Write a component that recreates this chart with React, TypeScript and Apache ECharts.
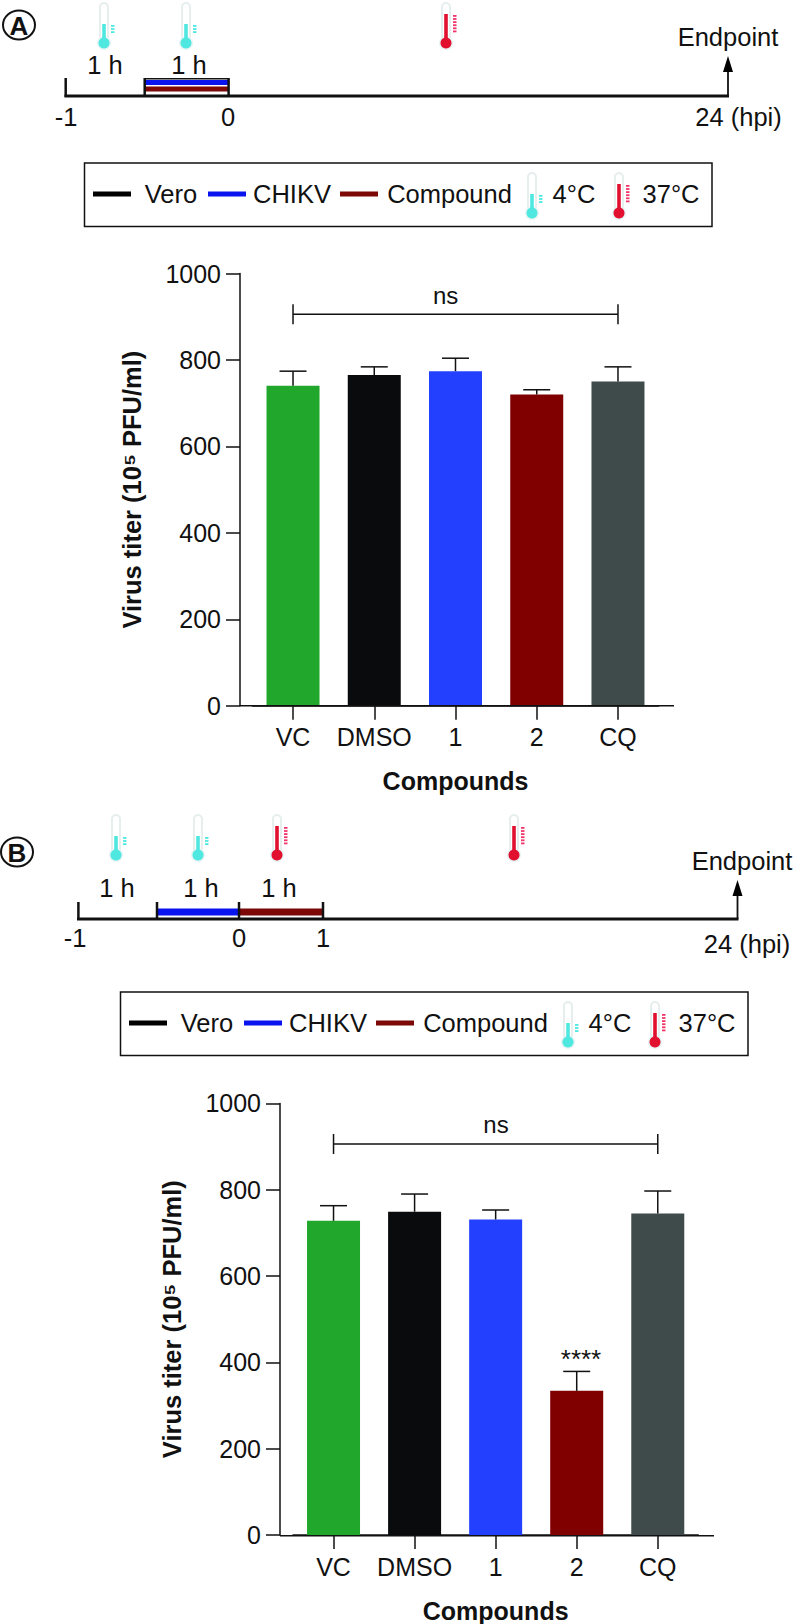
import React, { useEffect, useRef } from "react";
import * as echarts from "echarts";

const categories = ["VC", "DMSO", "1", "2", "CQ"];
const titerA = [740, 765, 774, 720, 750];
const errorTopA = [774, 784, 804, 731, 784];
const titerB = [728, 749, 731, 334, 745];
const errorTopB = [763, 790, 753, 379, 797];
const barColors = ["#21A72B", "#0A0B0C", "#2340FF", "#800000", "#3F4B4B"];
const bracketValue = 906;
const legendItems = ["Vero", "CHIKV", "Compound", "4°C", "37°C"];

const FONT = "Liberation Sans";
const INK = "#111111";
const TEAL = "#4FE8E0";
const HOT = "#E2102F";
const HOT_DASH = "#F0356A";
const LINE_BLUE = "#0A14EE";
const LINE_RED = "#7D0808";

const txt = (text: string, x: number, y: number, fontSize = 25.5, fontWeight = "normal") => ({
  type: "text", x, y, z: 10,
  style: { text, fontSize, fontWeight, fontFamily: FONT, fill: INK, align: "center", verticalAlign: "middle" },
});
const rect = (x: number, y: number, width: number, height: number, fill: string) => ({
  type: "rect", z: 5, shape: { x, y, width, height }, style: { fill },
});
const seg = (x1: number, y1: number, x2: number, y2: number, lineWidth = 2.5, stroke = INK) => ({
  type: "line", z: 6, shape: { x1, y1, x2, y2 }, style: { stroke, lineWidth },
});

function thermo(X: number, T: number, hot: boolean) {
  const color = hot ? HOT : TEAL;
  const fluidTop = hot ? T + 11 : T + 21;
  const dashColor = hot ? HOT_DASH : TEAL;
  const dashes = hot ? 6 : 3;
  const out: any[] = [
    { type: "rect", z: 4, shape: { x: X - 4, y: T, width: 8, height: 40, r: 4 }, style: { fill: "#fff", stroke: "#E6EEEE", lineWidth: 2 } },
    { type: "circle", z: 4, shape: { cx: X, cy: T + 40, r: 7 }, style: { fill: "#E6F4F4" } },
    { type: "rect", z: 5, shape: { x: X - 1.8, y: fluidTop, width: 3.6, height: T + 40 - fluidTop }, style: { fill: color } },
    { type: "circle", z: 5, shape: { cx: X, cy: T + 40, r: 5.5 }, style: { fill: color } },
  ];
  for (let i = 0; i < dashes; i++) {
    out.push({ type: "rect", z: 5, shape: { x: X + 7, y: fluidTop + 1 + i * 3.1, width: 3.5, height: 1.8 }, style: { fill: dashColor } });
  }
  return out;
}

function legend(dx: number, dy: number) {
  return [
    { type: "rect", z: 3, shape: { x: 84.5 + dx, y: 163 + dy, width: 627.5, height: 63.5 }, style: { fill: "#fff", stroke: INK, lineWidth: 1.5 } },
    rect(93 + dx, 191.5 + dy, 38, 5, "#000"),
    txt(legendItems[0], 171 + dx, 194 + dy),
    rect(208 + dx, 191.5 + dy, 38, 5, LINE_BLUE),
    txt(legendItems[1], 292 + dx, 194 + dy),
    rect(340 + dx, 191.5 + dy, 38, 5, LINE_RED),
    txt(legendItems[2], 449.5 + dx, 194 + dy),
    ...thermo(532 + dx, 173 + dy, false),
    txt(legendItems[3], 574 + dx, 194 + dy),
    ...thermo(619 + dx, 173 + dy, true),
    txt(legendItems[4], 671 + dx, 194 + dy),
  ];
}

const badge = (letter: string, cx: number, cy: number) => [
  { type: "ellipse", z: 6, shape: { cx, cy, rx: 16, ry: 14.5 }, style: { fill: "#fff", stroke: INK, lineWidth: 2 } },
  txt(letter, cx, cy + 1, 26, "bold"),
];

const arrow = (x: number, tip: number, base: number) => [
  seg(x, tip + 10, x, base, 1.8),
  { type: "polygon", z: 6, shape: { points: [[x, tip], [x - 5, tip + 16], [x + 5, tip + 16]] }, style: { fill: "#000" } },
];

const timelineA = [
  ...badge("A", 19, 25),
  ...thermo(104, 3, false),
  ...thermo(186, 3, false),
  ...thermo(446, 3, true),
  txt("1 h", 105, 65), txt("1 h", 189, 65),
  rect(144.7, 80, 84, 5, LINE_BLUE),
  rect(144.7, 86.5, 84, 5, LINE_RED),
  seg(144.7, 78.8, 228.6, 78.8, 1.5),
  seg(65.7, 78, 65.7, 97),
  seg(144.7, 78, 144.7, 97),
  seg(228.6, 78, 228.6, 97),
  seg(64.5, 96, 729, 96, 3),
  ...arrow(728, 56, 96),
  txt("Endpoint", 728, 37),
  txt("-1", 66, 117), txt("0", 228, 117), txt("24 (hpi)", 738.5, 117),
];

const timelineB = [
  ...badge("B", 17, 852),
  ...thermo(116, 815, false),
  ...thermo(198, 815, false),
  ...thermo(277, 815, true),
  ...thermo(514, 815, true),
  txt("1 h", 117, 888), txt("1 h", 201, 888), txt("1 h", 279, 888),
  rect(157, 908.5, 82, 7, LINE_BLUE),
  rect(239, 908.5, 84, 7, LINE_RED),
  seg(78.4, 902, 78.4, 920),
  seg(157, 902, 157, 920),
  seg(239, 902, 239, 920),
  seg(323, 902, 323, 920),
  seg(77, 919, 738.5, 919, 3),
  ...arrow(737.5, 880, 919),
  txt("Endpoint", 742, 861),
  txt("-1", 75, 938), txt("0", 239, 938), txt("1", 323, 938), txt("24 (hpi)", 747, 944),
];

function errorSeries(tops: number[], vals: number[], idx: number) {
  return {
    type: "custom", xAxisIndex: idx, yAxisIndex: idx, z: 4, silent: true,
    data: tops.map((t, i) => [i, vals[i], t]),
    encode: { x: 0, y: [1, 2] },
    renderItem: (_: any, api: any) => {
      const a = api.coord([api.value(0), api.value(1)]);
      const b = api.coord([api.value(0), api.value(2)]);
      const st = { stroke: INK, lineWidth: 1.5, fill: "none" };
      return {
        type: "group",
        children: [
          { type: "line", shape: { x1: a[0], y1: a[1], x2: b[0], y2: b[1] }, style: st },
          { type: "line", shape: { x1: b[0] - 13.5, y1: b[1], x2: b[0] + 13.5, y2: b[1] }, style: st },
        ],
      };
    },
  };
}

function bracketSeries(idx: number) {
  return {
    type: "custom", xAxisIndex: idx, yAxisIndex: idx, z: 4, silent: true,
    data: [[0, bracketValue, categories.length - 1]],
    encode: { x: [0, 2], y: 1 },
    renderItem: (_: any, api: any) => {
      const a = api.coord([api.value(0), api.value(1)]);
      const b = api.coord([api.value(2), api.value(1)]);
      const st = { stroke: INK, lineWidth: 1.5, fill: "none" };
      return {
        type: "group",
        children: [
          { type: "line", shape: { x1: a[0], y1: a[1], x2: b[0], y2: b[1] }, style: st },
          { type: "line", shape: { x1: a[0], y1: a[1] - 10, x2: a[0], y2: a[1] + 10 }, style: st },
          { type: "line", shape: { x1: b[0], y1: b[1] - 10, x2: b[0], y2: b[1] + 10 }, style: st },
        ],
      };
    },
  };
}

const xAxis = (idx: number) => ({
  type: "category", gridIndex: idx, data: categories,
  axisLine: { show: true, lineStyle: { color: INK, width: 1.5 } },
  axisTick: { show: true, alignWithLabel: true, length: 14, lineStyle: { color: INK, width: 1.5 } },
  axisLabel: { color: INK, fontSize: 25, fontFamily: FONT, margin: 19, interval: 0 },
  name: "Compounds", nameLocation: "middle", nameGap: 63,
  nameTextStyle: { color: INK, fontSize: 25, fontWeight: "bold", fontFamily: FONT },
});

const yAxis = (idx: number, offset: number) => ({
  type: "value", gridIndex: idx, min: 0, max: 1000, interval: 200, offset,
  splitLine: { show: false },
  axisLine: { show: true, onZero: false, lineStyle: { color: INK, width: 1.5 } },
  axisTick: { show: true, length: 14, lineStyle: { color: INK, width: 1.5 } },
  axisLabel: {
    color: INK, fontSize: 25, fontFamily: FONT, margin: 19,
    formatter: (v: number) => String(v),
  },
  name: "Virus titer (10⁵ PFU/ml)", nameLocation: "middle", nameGap: 95,
  nameTextStyle: { color: INK, fontSize: 25.5, fontWeight: "bold", fontFamily: FONT },
});

const bars = (vals: number[], idx: number) => ({
  type: "bar", xAxisIndex: idx, yAxisIndex: idx, barWidth: 53, z: 2, silent: true,
  data: vals.map((v, i) => ({ value: v, itemStyle: { color: barColors[i] } })),
});

export default function App() {
  const ref = useRef<HTMLDivElement>(null);
  useEffect(() => {
    document.body.style.margin = "0";
    const chart = echarts.init(ref.current!, undefined, { renderer: "svg" });
    chart.setOption({
      animation: false,
      backgroundColor: "#fff",
      grid: [
        { left: 252.4, width: 406.2, top: 273.5, height: 432.2 },
        { left: 293, width: 405.3, top: 1103.4, height: 432.3 },
      ],
      xAxis: [xAxis(0), xAxis(1)],
      yAxis: [yAxis(0, 12.4), yAxis(1, 13)],
      series: [
        bars(titerA, 0), errorSeries(errorTopA, titerA, 0), bracketSeries(0),
        bars(titerB, 1), errorSeries(errorTopB, titerB, 1), bracketSeries(1),
      ],
      graphic: [
        ...timelineA, ...legend(0, 0),
        ...timelineB, ...legend(36, 829),
        seg(240, 705.7, 674, 705.7, 1.5),
        seg(280, 1535.7, 714, 1535.7, 1.5),
        txt("ns", 445.6, 295, 24),
        txt("ns", 496, 1124, 24),
        txt("****", 581, 1359, 26),
      ],
    });
    return () => chart.dispose();
  }, []);
  return <div ref={ref} style={{ position: "absolute", left: 0, top: 0, width: 793, height: 1624 }} />;
}
